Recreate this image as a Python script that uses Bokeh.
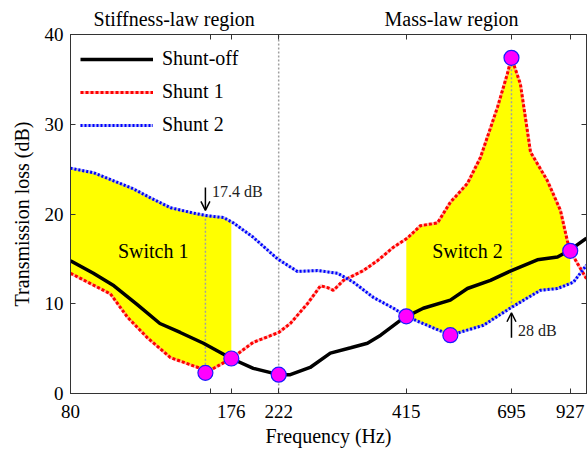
import numpy as np
from bokeh.plotting import figure
from bokeh.models import (FixedTicker, LinearAxis, LogAxis, Legend, LegendItem,
                          Label, Arrow, OpenHead, Range1d, CustomLabelingPolicy)
from bokeh.embed import file_html
from bokeh.resources import INLINE

# ---------------- data ----------------
freq_off = [80, 89.5, 99, 111, 124, 137, 153.5, 176, 196, 222, 235, 259, 286, 316,
            343, 366, 409, 451, 515, 560, 627, 695, 789, 871, 927, 1004]
tl_off = [14.8, 13.4, 12.0, 9.9, 7.8, 6.8, 5.6, 3.9, 2.8, 2.1, 2.1, 2.9, 4.5, 5.1,
          5.6, 6.5, 8.4, 9.5, 10.4, 11.7, 12.6, 13.7, 14.9, 15.2, 16.0, 17.3]

freq_s1 = [80, 97.3, 105.8, 116.7, 130.6, 151.3, 155, 176, 196, 222, 235, 255.6,
           272.5, 282, 290.4, 305, 336.4, 360.3, 389.7, 417, 444.8, 483.5, 515, 560,
           597, 649, 681, 695, 726, 763, 829, 883.6, 914, 927, 960, 1004]
tl_s1 = [13.4, 11.1, 8.5, 6.2, 4.0, 2.8, 2.3, 3.9, 5.7, 6.8, 7.8, 10.0,
         12.0, 11.8, 11.5, 12.6, 13.7, 14.8, 16.3, 17.3, 18.7, 19.0, 21.3, 23.4,
         26.3, 31.9, 35.6, 37.4, 34.5, 26.9, 23.7, 20.4, 17.0, 15.9, 14.5, 12.8]

freq_s2 = [80, 89.5, 98.8, 108.9, 118.4, 130.6, 146.2, 156.6, 169.4, 177.9, 196,
           220.7, 243.4, 268.5, 296.2, 320.3, 353.3, 389.7, 415, 515, 605.8, 695,
           801, 871, 941.6, 1004]
tl_s2 = [25.1, 24.6, 23.7, 22.8, 21.8, 20.7, 20.1, 19.8, 19.6, 19.0, 17.4,
         15.0, 13.6, 13.7, 13.4, 12.4, 10.7, 9.5, 8.6, 6.5, 7.6, 9.6,
         11.5, 11.7, 12.4, 14.3]

marker_freq = [155, 176, 222, 415, 515, 695, 927]
marker_tl = [2.3, 3.9, 2.1, 8.6, 6.5, 37.4, 15.9]

x_ticks = [80, 159, 176, 222, 415, 695, 927]
x_tick_labels = ["80", "", "176", "222", "415", "695", "927"]
y_ticks = [0, 10, 20, 30, 40]

region_pos = [133, 518]
region_labels = ["Stiffness-law region", "Mass-law region"]

switch1_band = [80, 176]
switch2_band = [415, 927]
mark1_freq = 155      # 17.4 dB marker
mark2_freq = 695      # 28 dB marker
middle_freq = 222

FONT = "'Liberation Serif', 'Times New Roman', serif"


def interp(f, fs, ys):
    return np.interp(np.log(f), np.log(fs), ys)


p = figure(width=587, height=451, x_axis_type="log",
           x_range=Range1d(80, 1004), y_range=Range1d(0, 40),
           output_backend="svg", toolbar_location=None,
           min_border_left=70, min_border_right=1, min_border_top=34,
           min_border_bottom=58)
p.grid.visible = False
p.outline_line_color = "#333333"
p.background_fill_color = "white"

# ---------------- yellow switch regions ----------------
xs1 = np.geomspace(switch1_band[0], switch1_band[1], 120)
p.varea(x=xs1, y1=interp(xs1, freq_s1, tl_s1), y2=interp(xs1, freq_s2, tl_s2),
        fill_color="#ffff00")
xs2 = np.geomspace(switch2_band[0], switch2_band[1], 120)
p.varea(x=xs2, y1=interp(xs2, freq_s2, tl_s2), y2=interp(xs2, freq_s1, tl_s1),
        fill_color="#ffff00")

# ---------------- gray dashed guides ----------------
g_x = [mark1_freq, middle_freq, mark2_freq]
g_y0 = [float(interp(mark1_freq, freq_s1, tl_s1)), 0,
        float(interp(mark2_freq, freq_s2, tl_s2))]
g_y1 = [float(interp(mark1_freq, freq_s2, tl_s2)), 40,
        float(interp(mark2_freq, freq_s1, tl_s1))]
p.segment(x0=g_x, y0=g_y0, x1=g_x, y1=g_y1, line_color="#a0a0a0",
          line_width=1.5, line_dash="2 2")

# ---------------- curves ----------------
r_off = p.line(freq_off, tl_off, line_color="black", line_width=3.5)
r_s1u = p.line(freq_s1, tl_s1, line_color="#ff8c8c", line_width=3, line_alpha=0.6)
r_s1 = p.line(freq_s1, tl_s1, line_color="#ff0000", line_width=3, line_dash="3 2")
r_s2u = p.line(freq_s2, tl_s2, line_color="#8c96f0", line_width=3, line_alpha=0.6)
r_s2 = p.line(freq_s2, tl_s2, line_color="#0000ff", line_width=3, line_dash="2 2")

p.scatter(marker_freq, marker_tl, size=15, fill_color="#ff00ff",
          line_color="#1a1aff", line_width=1.2)

# ---------------- annotations ----------------
p.add_layout(Arrow(end=OpenHead(size=9, line_width=1.5, line_color="black"),
                   x_start=mark1_freq, y_start=22.95, x_end=mark1_freq, y_end=20.4,
                   line_width=1.5, line_color="black"))
p.add_layout(Label(x=160, y=22.5, text="17.4 dB", text_font=FONT,
                   text_font_size="16px", text_baseline="middle", text_color="#222222"))
p.add_layout(Arrow(end=OpenHead(size=9, line_width=1.5, line_color="black"),
                   x_start=mark2_freq, y_start=6.2, x_end=mark2_freq, y_end=9.0,
                   line_width=1.5, line_color="black"))
p.add_layout(Label(x=718, y=7.0, text="28 dB", text_font=FONT,
                   text_font_size="16px", text_baseline="middle", text_color="#222222"))

p.add_layout(Label(x=120, y=15.9, text="Switch 1", text_font=FONT,
                   text_font_size="20px", text_align="center", text_baseline="middle",
                   text_color="black"))
p.add_layout(Label(x=560, y=15.9, text="Switch 2", text_font=FONT,
                   text_font_size="20px", text_align="center", text_baseline="middle",
                   text_color="black"))

# ---------------- legend ----------------
legend = Legend(items=[LegendItem(label="Shunt-off", renderers=[r_off]),
                       LegendItem(label="Shunt 1", renderers=[r_s1u, r_s1]),
                       LegendItem(label="Shunt 2", renderers=[r_s2u, r_s2])],
                location=(5, 252), margin=0, padding=5, spacing=10,
                glyph_width=73, glyph_height=20, label_height=20,
                label_standoff=9, label_text_font=FONT, label_text_font_size="20px",
                label_text_color="black",
                background_fill_alpha=0, border_line_alpha=0)
p.add_layout(legend)

# ---------------- axes ----------------
xt = FixedTicker(ticks=x_ticks, minor_ticks=[])
yt = FixedTicker(ticks=y_ticks, minor_ticks=[])
AX = "#333333"

hide_all = CustomLabelingPolicy(code="return new Set()")
skip_blank = CustomLabelingPolicy(
    args=dict(labels=x_tick_labels),
    code="""
    const keep = new Set()
    for (const i of indices) { if (labels[i] !== "") keep.add(i) }
    return keep
""")

p.xaxis.ticker = xt
p.xaxis.major_label_overrides = dict(zip(x_ticks, x_tick_labels))
p.xaxis.major_label_policy = skip_blank
p.xaxis.axis_label = "Frequency (Hz)"
p.yaxis.ticker = yt
p.yaxis.axis_label = "Transmission loss (dB)"
for ax in (p.xaxis[0], p.yaxis[0]):
    ax.major_tick_in = 5
    ax.major_tick_out = 0
    ax.minor_tick_line_color = None
    ax.axis_line_color = AX
    ax.major_tick_line_color = AX
    ax.major_label_text_font = FONT
    ax.major_label_text_font_size = "19px"
    ax.major_label_text_color = "black"
    ax.axis_label_text_font = FONT
    ax.axis_label_text_font_size = "20px"
    ax.axis_label_text_font_style = "normal"
    ax.axis_label_text_color = "black"
p.xaxis.major_label_standoff = 11
p.yaxis.major_label_standoff = 7
p.xaxis.axis_label_standoff = 4
p.yaxis.axis_label_standoff = 9

top = LogAxis(ticker=xt, major_label_text_font_size="0px", major_tick_in=5,
              major_label_policy=hide_all,
              major_tick_out=0, major_label_standoff=0, minor_tick_line_color=None,
              axis_line_color=AX, major_tick_line_color=AX)
p.add_layout(top, "above")
region_axis = LogAxis(ticker=FixedTicker(ticks=region_pos, minor_ticks=[]),
                      major_label_overrides=dict(zip(region_pos, region_labels)),
                      major_label_text_font=FONT, major_label_text_font_size="20px",
                      major_label_text_color="black", major_label_standoff=5,
                      major_tick_in=0, major_tick_out=0, major_tick_line_color=None,
                      minor_tick_line_color=None, axis_line_color=None)
p.add_layout(region_axis, "above")
right = LinearAxis(ticker=yt, major_label_text_font_size="0px", major_tick_in=5,
                   major_label_policy=hide_all,
                   major_tick_out=0, major_label_standoff=0, minor_tick_line_color=None,
                   axis_line_color=AX, major_tick_line_color=AX)
p.add_layout(right, "right")

open("out.html", "w").write(file_html(p, INLINE))
